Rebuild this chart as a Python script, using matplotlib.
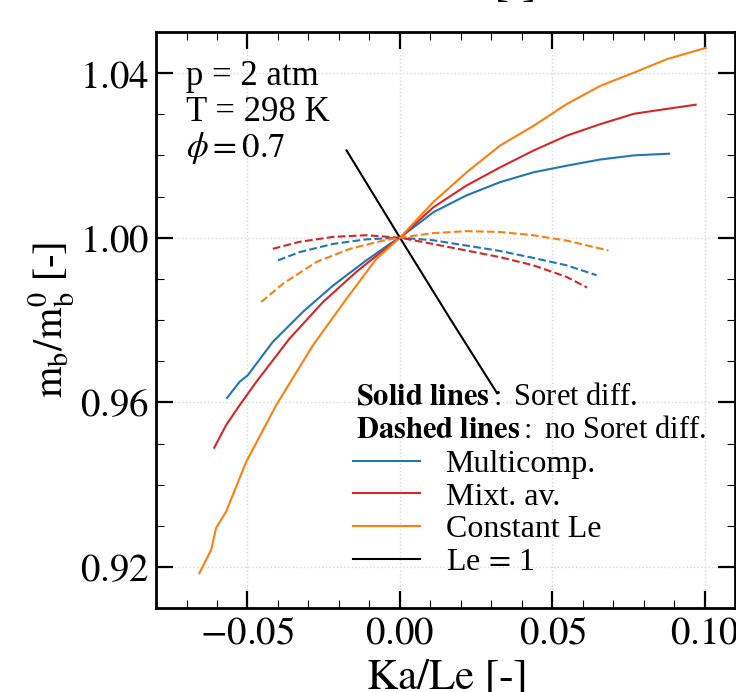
import numpy as np
import matplotlib
matplotlib.use("Agg")
import matplotlib.pyplot as plt
from matplotlib.ticker import MultipleLocator, FuncFormatter

plt.rcParams['font.family'] = ['Liberation Serif', 'DejaVu Serif']
plt.rcParams['mathtext.fontset'] = 'stix'

# Ka/Le and m_b/m_b0
# with Soret diffusion (solid)
mc_x = [-0.0567, -0.0526, -0.0499, -0.0417, -0.0318, -0.0219, -0.0110, -0.0033, 0.0,
        0.0110, 0.0219, 0.0329, 0.0439, 0.0548, 0.0658, 0.0768, 0.0883]
mc_y = [0.9611, 0.9650, 0.9666, 0.9747, 0.9820, 0.9884, 0.9945, 0.9985, 1.0,
        1.0062, 1.0103, 1.0135, 1.0159, 1.0175, 1.0190, 1.0200, 1.0204]
ma_x = [-0.0609, -0.0570, -0.0526, -0.0471, -0.0362, -0.0252, -0.0143, -0.0055, 0.0,
        0.0110, 0.0219, 0.0329, 0.0439, 0.0548, 0.0658, 0.0768, 0.0877, 0.0970]
ma_y = [0.9490, 0.9545, 0.9593, 0.9650, 0.9755, 0.9844, 0.9917, 0.9969, 1.0,
        1.0074, 1.0127, 1.0171, 1.0212, 1.0248, 1.0276, 1.0301, 1.0313, 1.0323]
cl_x = [-0.0658, -0.0619, -0.0603, -0.0570, -0.0504, -0.0406, -0.0285, -0.0175, -0.0077, 0.0,
        0.0110, 0.0219, 0.0329, 0.0439, 0.0548, 0.0658, 0.0768, 0.0877, 0.1003]
cl_y = [0.9185, 0.9242, 0.9295, 0.9335, 0.9456, 0.9593, 0.9739, 0.9852, 0.9949, 1.0,
        1.0087, 1.0159, 1.0224, 1.0272, 1.0325, 1.0369, 1.0401, 1.0434, 1.0461]

# without Soret diffusion (dashed)
mc_ns_x = [-0.0400, -0.0329, -0.0219, -0.0110, 0.0, 0.0107, 0.0217, 0.0327, 0.0437, 0.0546, 0.0645]
mc_ns_y = [0.9945, 0.9965, 0.9985, 0.9996, 1.0, 0.9994, 0.9981, 0.9968, 0.9951, 0.9933, 0.9909]
ma_ns_x = [-0.0417, -0.0329, -0.0219, -0.0110, 0.0, 0.0107, 0.0217, 0.0327, 0.0437, 0.0546, 0.0614]
ma_ns_y = [0.9973, 0.9990, 1.0002, 1.0006, 1.0, 0.9985, 0.9969, 0.9953, 0.9933, 0.9905, 0.9879]
cl_ns_x = [-0.0455, -0.0384, -0.0274, -0.0164, -0.0055, 0.0, 0.0107, 0.0217, 0.0327, 0.0437, 0.0546, 0.0684]
cl_ns_y = [0.9844, 0.9888, 0.9941, 0.9973, 0.9993, 1.0, 1.0011, 1.0016, 1.0014, 1.0006, 0.9993, 0.9969]

# unity Lewis number
le1_x = [-0.0175, 0.0, 0.0164, 0.0319]
le1_y = [1.0212, 1.0, 0.9804, 0.9622]

c_mc = '#1f77b4'
c_ma = '#d62728'
c_cl = '#ff7f0e'

fig = plt.figure(figsize=(7.36, 6.92), dpi=100)
ax = fig.add_axes([0.212, 0.121, 0.787, 0.833])

lw = 1.5
ax.plot(mc_x, mc_y, color=c_mc, lw=lw, label='Multicomp.')
ax.plot(ma_x, ma_y, color=c_ma, lw=lw, label='Mixt. av.')
ax.plot(cl_x, cl_y, color=c_cl, lw=lw, label='Constant Le')
ax.plot(le1_x, le1_y, color='k', lw=lw, label=r'Le$\,=\,$1')
ax.plot(mc_ns_x, mc_ns_y, color=c_mc, lw=lw, ls='--')
ax.plot(ma_ns_x, ma_ns_y, color=c_ma, lw=lw, ls='--')
ax.plot(cl_ns_x, cl_ns_y, color=c_cl, lw=lw, ls='--')

ax.set_xlim(-0.08, 0.11)
ax.set_ylim(0.91, 1.05)
ax.xaxis.set_major_locator(MultipleLocator(0.05))
ax.xaxis.set_minor_locator(MultipleLocator(0.01))
ax.yaxis.set_major_locator(MultipleLocator(0.04))
ax.yaxis.set_minor_locator(MultipleLocator(0.01))
fmt = FuncFormatter(lambda v, p: r'$%.2f$' % v)
ax.xaxis.set_major_formatter(fmt)
ax.yaxis.set_major_formatter(fmt)
ax.tick_params(which='both', direction='in', top=True, right=True, labelsize=28, pad=5)
ax.tick_params(which='major', length=12, width=1.6)
ax.tick_params(which='minor', length=6, width=0.8)
for s in ax.spines.values():
    s.set_linewidth(2)
ax.grid(True, which='major', color='#d8d8d8', ls=':', lw=1)

ax.set_xlabel(r'$\mathrm{Ka/Le}$ [-]', fontsize=31, labelpad=4)
ax.set_ylabel(r'$\mathrm{m_b/m_b^0}$ [-]', fontsize=29, labelpad=2)

# case info
ax.text(0.052, 0.908, 'p = 2 atm', transform=ax.transAxes, fontsize=25)
ax.text(0.052, 0.845, 'T = 298 K', transform=ax.transAxes, fontsize=25)
ax.text(0.052, 0.783, r'$\phi = 0.7$', transform=ax.transAxes, fontsize=25)

ax.text(0.345, 0.366, r'$\mathbf{Solid\ lines}:$ Soret diff.', transform=ax.transAxes,
        fontsize=22, va='center')
ax.text(0.345, 0.309, r'$\mathbf{Dashed\ lines}:$ no Soret diff.', transform=ax.transAxes,
        fontsize=22, va='center')

ax.legend(loc='upper left', bbox_to_anchor=(0.34, 0.275), frameon=False, fontsize=23,
          handlelength=2.1, handletextpad=0.8, labelspacing=0.1, borderpad=0,
          borderaxespad=0)

# label of the panel above, mostly cut off by the crop
fig.text(0.486, 1.004, r'$\mathrm{Ka/Ka^0}$ [-]', fontsize=30, ha='left', va='baseline')

fig.savefig('out.png', dpi=100)
